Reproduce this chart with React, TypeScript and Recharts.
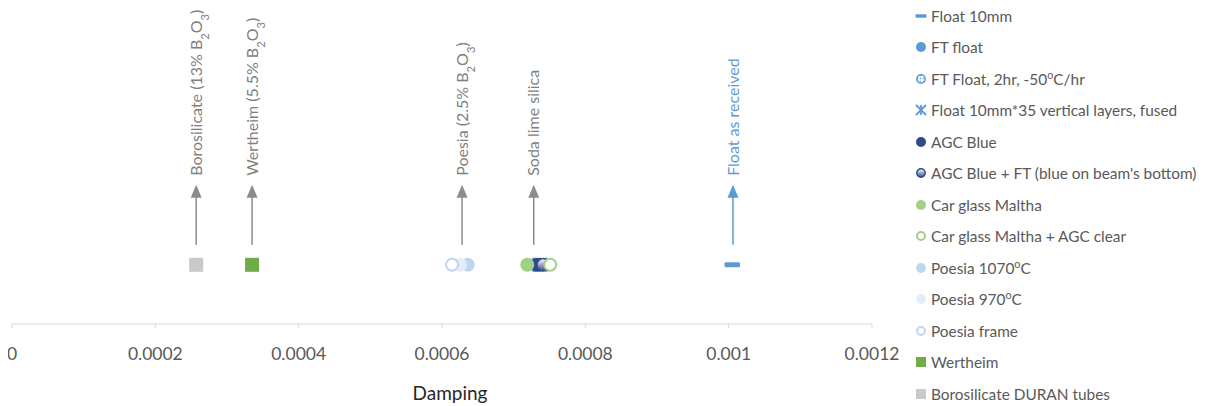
import React from "react"
import { ScatterChart, Scatter, XAxis, YAxis, Legend } from "recharts"

// damping values, one point per series
const seriesNames = [
  "Float 10mm",
  "FT float",
  "FT Float, 2hr, -50^oC/hr",
  "Float 10mm*35 vertical layers, fused",
  "AGC Blue",
  "AGC Blue + FT (blue on beam's bottom)",
  "Car glass Maltha",
  "Car glass Maltha + AGC clear",
  "Poesia 1070^oC",
  "Poesia 970^oC",
  "Poesia frame",
  "Wertheim",
  "Borosilicate DURAN tubes",
]
const dampingValues = [
  0.001005, 0.00073, 0.000737, 0.000737, 0.000733, 0.000741, 0.000719, 0.000751, 0.000636, 0.000625,
  0.000614, 0.000335, 0.000257,
]

const annotationLabels = [
  "Borosilicate (13% B_2O_3)",
  "Wertheim (5.5% B_2O_3)",
  "Poesia (2.5% B_2O_3)",
  "Soda lime silica",
  "Float as received",
]
const annotationDamping = [0.000257, 0.000335, 0.000628, 0.000728, 0.001006]

const xTicks = [0, 0.0002, 0.0004, 0.0006, 0.0008, 0.001, 0.0012]

// styles
const FONT = "Lato, 'Open Sans', sans-serif"
const TEXT = "#595959"
const GRAY = "#8c8c8c"
const BLUE = "#5b9bd5"
const NAVY = "#2f4a8a"
const GREEN = "#a3cf86"
const annotationColors = [GRAY, GRAY, GRAY, GRAY, BLUE]

type MarkerKind =
  | "dash" | "ftFloat" | "ft2hr" | "star" | "agc" | "agcFt"
  | "maltha" | "malthaClear" | "p1070" | "p970" | "pFrame" | "wertheim" | "boro"
const markerKinds: MarkerKind[] = [
  "dash", "ftFloat", "ft2hr", "star", "agc", "agcFt", "maltha", "malthaClear", "p1070", "p970", "pFrame", "wertheim", "boro",
]

function Marker({ kind, cx, cy, s }: { kind: MarkerKind; cx: number; cy: number; s: number }) {
  const r = s / 2
  switch (kind) {
    case "dash":
      return <rect x={cx - s * 0.55} y={cy - s * 0.18} width={s * 1.1} height={s * 0.36} rx={1} fill={BLUE} />
    case "ftFloat":
      return <circle cx={cx} cy={cy} r={r} fill={BLUE} />
    case "ft2hr":
      return <circle cx={cx} cy={cy} r={r - 0.8} fill="url(#dots)" stroke={BLUE} strokeWidth={1.5} />
    case "star":
      return (
        <g stroke={BLUE} strokeWidth={1.8}>
          <line x1={cx - r} y1={cy - r} x2={cx + r} y2={cy + r} />
          <line x1={cx - r} y1={cy + r} x2={cx + r} y2={cy - r} />
          <line x1={cx} y1={cy - r} x2={cx} y2={cy + r} />
        </g>
      )
    case "agc":
      return <circle cx={cx} cy={cy} r={r} fill={NAVY} />
    case "agcFt":
      return <circle cx={cx} cy={cy} r={r - 0.8} fill="url(#agcGrad)" stroke={NAVY} strokeWidth={1.5} />
    case "maltha":
      return <circle cx={cx} cy={cy} r={r} fill={GREEN} />
    case "malthaClear":
      return <circle cx={cx} cy={cy} r={r - 1} fill="#fff" stroke={GREEN} strokeWidth={2} />
    case "p1070":
      return <circle cx={cx} cy={cy} r={r} fill="#bdd7ee" />
    case "p970":
      return <circle cx={cx} cy={cy} r={r} fill="#e4edf7" />
    case "pFrame":
      return <circle cx={cx} cy={cy} r={r - 1} fill="#fff" stroke="#bdd7ee" strokeWidth={2} />
    case "wertheim":
      return <rect x={cx - r} y={cy - r} width={s} height={s} fill="#70ad47" />
    case "boro":
      return <rect x={cx - r} y={cy - r} width={s} height={s} fill="#c9c9c9" />
  }
}

// "_2" -> subscript, "^o" -> superscript
function richSvg(text: string) {
  return text.split(/([_^].)/).map((part, i) => {
    if (part.startsWith("_")) return <tspan key={i} baselineShift="sub" fontSize="70%">{part[1]}</tspan>
    if (part.startsWith("^")) return <tspan key={i} baselineShift="super" fontSize="70%">{part[1]}</tspan>
    return <tspan key={i}>{part}</tspan>
  })
}
function richHtml(text: string) {
  return text.split(/([_^].)/).map((part, i) => {
    if (part.startsWith("_")) return <sub key={i} style={{ fontSize: "70%" }}>{part[1]}</sub>
    if (part.startsWith("^")) return <sup key={i} style={{ fontSize: "70%", lineHeight: 0 }}>{part[1]}</sup>
    return <span key={i}>{part}</span>
  })
}

const AnnotationShape = (props: any) => {
  const { cx, cy, payload } = props
  const color = payload.color
  const base = cy - 20
  const tip = cy - 80
  return (
    <g>
      <line x1={cx} y1={base} x2={cx} y2={tip + 10} stroke={color} strokeWidth={1.5} />
      <polygon points={`${cx},${tip} ${cx - 5.5},${tip + 13} ${cx + 5.5},${tip + 13}`} fill={color} />
      <text
        x={cx}
        y={cy - 89}
        dy="0.35em"
        transform={`rotate(-90, ${cx}, ${cy - 89})`}
        fill={color === BLUE ? BLUE : "#7f7f7f"}
        fontFamily={FONT}
        fontSize={16}
        textAnchor="start"
      >
        {richSvg(payload.label)}
      </text>
    </g>
  )
}

const AxisTick = (props: any) => {
  const { x, y, payload } = props
  return (
    <g>
      <line x1={x} y1={y - 30} x2={x} y2={y - 26} stroke="#d9d9d9" strokeWidth={1} />
      <text x={x} y={y} dy="0.35em" textAnchor="middle" fill={TEXT} fontFamily={FONT} fontSize={17.5}>
        {String(payload.value)}
      </text>
    </g>
  )
}

const renderLegend = () => (
  <div style={{ fontFamily: FONT, fontSize: 15.4, color: TEXT }}>
    {seriesNames.map((name, i) => (
      <div key={name} style={{ height: 31.5, display: "flex", alignItems: "center", whiteSpace: "nowrap" }}>
        <svg width={16} height={16} style={{ marginRight: 2, flexShrink: 0 }}>
          <Marker kind={markerKinds[i]} cx={8} cy={8} s={10} />
        </svg>
        <span>{richHtml(name)}</span>
      </div>
    ))}
  </div>
)

export default function App() {
  const annotations = annotationLabels.map((label, i) => ({
    x: annotationDamping[i],
    y: 1,
    label,
    color: annotationColors[i],
  }))

  return (
    <div style={{ width: 1200, height: 398 }}>
      <ScatterChart width={1200} height={398} margin={{ top: 20, right: 336, bottom: 0, left: 4 }}>
        <defs>
          <linearGradient id="agcGrad" x1="0" y1="0" x2="0" y2="1">
            <stop offset="0%" stopColor="#ffffff" />
            <stop offset="100%" stopColor={NAVY} />
          </linearGradient>
          <pattern id="dots" width={3} height={3} patternUnits="userSpaceOnUse">
            <rect width={3} height={3} fill="#ffffff" />
            <circle cx={1.5} cy={1.5} r={0.8} fill={BLUE} />
          </pattern>
        </defs>
        <XAxis
          type="number"
          dataKey="x"
          domain={[0, 0.0012]}
          ticks={xTicks}
          interval={0}
          height={82}
          stroke="#d9d9d9"
          tickLine={false}
          tickSize={0}
          tickMargin={30}
          tick={<AxisTick />}
          label={{
            content: (p: any) => {
              const vb = p.viewBox
              return (
                <text
                  x={vb.x + vb.width / 2 + 8}
                  y={vb.y + vb.height - 6}
                  textAnchor="middle"
                  fill="#262626"
                  fontFamily={FONT}
                  fontSize={19}
                >
                  Damping
                </text>
              )
            },
          }}
        />
        <YAxis type="number" dataKey="y" domain={[0, 5]} hide />
        <Legend
          layout="vertical"
          align="center"
          verticalAlign="middle"
          wrapperStyle={{ left: 905, top: -8, width: 295 }}
          content={renderLegend}
        />
        <Scatter
          name="annotations"
          data={annotations}
          shape={AnnotationShape}
          legendType="none"
          isAnimationActive={false}
        />
        {seriesNames.map((name, i) => (
          <Scatter
            key={name}
            name={name}
            data={[{ x: dampingValues[i], y: 1 }]}
            isAnimationActive={false}
            shape={(p: any) => <Marker kind={markerKinds[i]} cx={p.cx} cy={p.cy} s={14} />}
          />
        ))}
      </ScatterChart>
    </div>
  )
}
